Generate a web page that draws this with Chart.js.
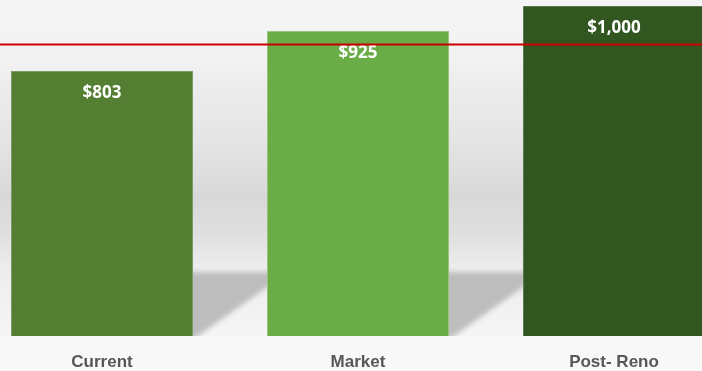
<!DOCTYPE html>
<html>
<head>
<meta charset="utf-8">
<script src="https://cdn.jsdelivr.net/npm/chart.js@4/dist/chart.umd.min.js"></script>
<style>
  html, body { margin: 0; padding: 0; width: 702px; height: 371px; overflow: hidden; background: #f8f8f8; }
  #wrap { position: absolute; left: -26px; top: 0; width: 768px; height: 371px; }
</style>
</head>
<body>
<div id="wrap"><canvas id="rent-chart" width="768" height="371"></canvas></div>
<script>
var categories = ["Current", "Market", "Post- Reno"];
var rentValues = [803, 925, 1000];
var targetRent = 883;
var axisTicks = [0, 1000];

var barFill = ["#547e32", "#6aad47", "#32561f"];
var barEdge = ["#7f9a69", "#97c47f", "#5f7851"];

/* grey backdrop plus the soft shadow each bar throws to its right */
var backdrop = {
    id: "backdrop",
    beforeDraw: function(chart) {
        var ctx = chart.ctx;
        var area = chart.chartArea;
        var w = chart.width, h = chart.height;
        var bottom = area.bottom;

        var g = ctx.createLinearGradient(0, 0, 0, bottom);
        g.addColorStop(0.00, "#f5f5f5");
        g.addColorStop(0.18, "#f2f2f2");
        g.addColorStop(0.25, "#ececec");
        g.addColorStop(0.36, "#e8e8e8");
        g.addColorStop(0.50, "#dfdfdf");
        g.addColorStop(0.59, "#d8d8d8");
        g.addColorStop(0.70, "#e0e0e0");
        g.addColorStop(0.79, "#ececec");
        g.addColorStop(0.90, "#f1f1f1");
        g.addColorStop(1.00, "#f5f5f5");
        ctx.save();
        ctx.fillStyle = g;
        ctx.fillRect(0, 0, w, bottom);
        ctx.fillStyle = "#f8f8f8";
        ctx.fillRect(0, bottom, w, h - bottom);

        var step = chart.scales.x.width / categories.length;
        var top = bottom - 64, knee = bottom - 53;
        chart.getDatasetMeta(0).data.forEach(function(bar) {
            var right = bar.x + bar.width / 2;
            var gap = step - bar.width;
            ctx.save();
            ctx.beginPath();
            ctx.rect(right, top - 12, gap, bottom - top + 12);
            ctx.clip();
            ctx.filter = "blur(2.5px)";
            ctx.fillStyle = "#bdbdbd";
            ctx.beginPath();
            ctx.moveTo(right - 6, top);
            ctx.lineTo(right + gap + 6, top);
            ctx.lineTo(right + gap + 6, knee);
            ctx.lineTo(right + 2, bottom + 2);
            ctx.lineTo(right - 6, bottom + 2);
            ctx.closePath();
            ctx.fill();
            ctx.restore();
        });
        ctx.restore();
    }
};

/* value labels inside the bars and the red target line */
var overlay = {
    id: "overlay",
    afterDatasetsDraw: function(chart) {
        var ctx = chart.ctx;
        ctx.save();
        ctx.font = "bold 17px 'Open Sans'";
        ctx.fillStyle = "#ffffff";
        ctx.textAlign = "center";
        ctx.textBaseline = "middle";
        chart.getDatasetMeta(0).data.forEach(function(bar, i) {
            ctx.fillText("$" + rentValues[i].toLocaleString("en-US"), bar.x, bar.y + 22);
        });

        var y = chart.scales.y.getPixelForValue(targetRent);
        ctx.strokeStyle = "#cc0000";
        ctx.lineWidth = 2;
        ctx.beginPath();
        ctx.moveTo(0, y);
        ctx.lineTo(chart.width, y);
        ctx.stroke();
        ctx.restore();
    }
};

var ctx = document.getElementById("rent-chart").getContext("2d");
var rentChart = new Chart(ctx, {
    type: "bar",
    data: {
        labels: categories,
        datasets: [{
            data: rentValues,
            backgroundColor: barFill,
            borderColor: barEdge,
            borderWidth: 1,
            categoryPercentage: 1,
            barPercentage: 0.711
        }]
    },
    options: {
        responsive: false,
        animation: false,
        devicePixelRatio: 1,
        layout: { padding: { top: 6, left: 0, right: 0, bottom: 0 } },
        plugins: {
            legend: { display: false },
            tooltip: { enabled: false }
        },
        scales: {
            x: {
                grid: { display: false },
                border: { display: false },
                ticks: {
                    color: "#575757",
                    padding: 8,
                    font: { family: "'Liberation Sans', Arial", size: 17, weight: "bold" }
                },
                afterFit: function(scale) { scale.height = 35; }
            },
            y: {
                display: false,
                min: axisTicks[0],
                max: axisTicks[1]
            }
        }
    },
    plugins: [backdrop, overlay]
});
</script>
</body>
</html>
